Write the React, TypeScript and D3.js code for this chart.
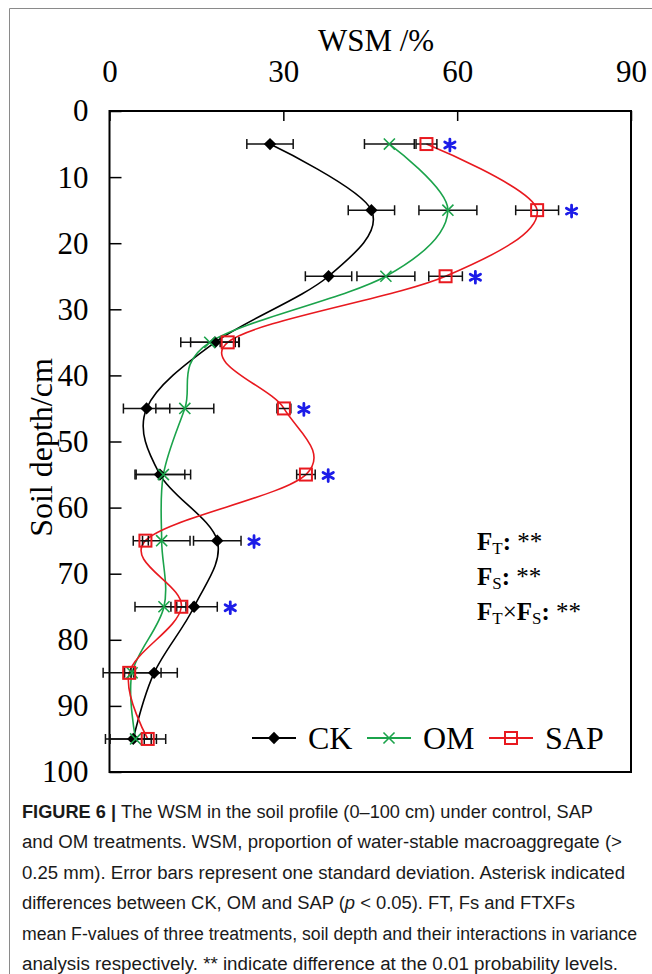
import React, { useEffect, useRef } from "react";
import * as d3 from "d3";

// depth (cm) and WSM (%)
const depths = [5, 15, 25, 35, 45, 55, 65, 75, 85, 95];
const ckMean = [27.7, 45.2, 37.8, 18.2, 6.4, 8.7, 18.6, 14.6, 7.7, 4.1];
const ckSd = [4.0, 4.0, 4.0, 4.2, 4.0, 4.3, 4.1, 4.0, 4.0, 4.0];
const omMean = [48.3, 58.4, 47.7, 17.3, 13.0, 9.3, 9.0, 9.4, 3.9, 4.5];
const omSd = [4.3, 5.0, 5.0, 5.0, 5.0, 4.7, 4.9, 5.0, 5.0, 5.2];
const sapMean = [54.7, 73.8, 58.0, 20.4, 30.1, 33.9, 6.2, 12.4, 3.4, 6.6];
const sapSd = [1.8, 3.7, 2.9, 1.3, 1.2, 1.6, 0.5, 0.8, 0.8, 0.6];
const sigDepths = [5, 15, 25, 45, 55, 65, 75];

const xTicks = [0, 30, 60, 90];
const yTicks = [0, 10, 20, 30, 40, 50, 60, 70, 80, 90, 100];

const SERIF = "'Liberation Serif', 'Times New Roman', serif";
const SANS = "'Liberation Sans', Arial, sans-serif";

const series = [
  { name: "CK", mean: ckMean, sd: ckSd, color: "#000000", marker: "diamond" },
  { name: "OM", mean: omMean, sd: omSd, color: "#1ba34b", marker: "x" },
  { name: "SAP", mean: sapMean, sd: sapSd, color: "#e8191f", marker: "square" },
];

const captionLines = [
  { w: 571, parts: [{ t: "FIGURE 6 | ", b: true }, { t: "The WSM in the soil profile (0–100 cm) under control, SAP" }] },
  { w: 600, parts: [{ t: "and OM treatments. WSM, proportion of water-stable macroaggregate (>" }] },
  { w: 603, parts: [{ t: "0.25 mm). Error bars represent one standard deviation. Asterisk indicated" }] },
  {
    w: 553,
    parts: [
      { t: "differences between CK, OM and SAP (" },
      { t: "p", i: true },
      { t: " < 0.05). FT, Fs and FTXFs" },
    ],
  },
  { w: 615, parts: [{ t: "mean F-values of three treatments, soil depth and their interactions in variance" }] },
  { w: 596, parts: [{ t: "analysis respectively. ** indicate difference at the 0.01 probability levels." }] },
];

function drawMarker(g, type, cx, cy, color) {
  if (type === "diamond") {
    g.append("path")
      .attr("d", d3.symbol(d3.symbolSquare, 76)())
      .attr("transform", `translate(${cx},${cy}) rotate(45)`)
      .attr("fill", color);
  } else if (type === "x") {
    g.append("path")
      .attr("d", d3.symbol(d3.symbolX, 82)())
      .attr("transform", `translate(${cx},${cy})`)
      .attr("fill", "none")
      .attr("stroke", color)
      .attr("stroke-width", 1.6);
  } else {
    g.append("rect")
      .attr("x", cx - 6)
      .attr("y", cy - 6)
      .attr("width", 12)
      .attr("height", 12)
      .attr("fill", "none")
      .attr("stroke", color)
      .attr("stroke-width", 2);
  }
}

export default function App() {
  const ref = useRef<SVGSVGElement>(null);

  useEffect(() => {
    const svg = d3.select(ref.current);
    svg.selectAll("*").remove();

    const x = d3.scaleLinear().domain([0, 90]).range([109.5, 631]);
    const y = d3.scaleLinear().domain([0, 100]).range([111, 772]);

    // outer frame (left + top only)
    svg.append("path")
      .attr("d", "M9.5,974 V8.5 H652")
      .attr("fill", "none")
      .attr("stroke", "#8a8a8a")
      .attr("stroke-width", 1);

    // top axis
    const gx = svg.append("g")
      .attr("transform", `translate(0,${y(0)})`)
      .call(d3.axisTop(x).tickValues(xTicks).tickSize(-10).tickPadding(29));
    gx.select(".domain").remove();
    gx.attr("font-family", SERIF).attr("font-size", 31);
    gx.selectAll("line").attr("stroke", "#000").attr("stroke-width", 1.5);
    gx.selectAll("text").attr("fill", "#000");

    // left axis
    const gy = svg.append("g")
      .attr("transform", `translate(${x(0)},0)`)
      .call(d3.axisLeft(y).tickValues(yTicks).tickSize(-12).tickPadding(21));
    gy.select(".domain").remove();
    gy.attr("font-family", SERIF).attr("font-size", 31);
    gy.selectAll("line").attr("stroke", "#000").attr("stroke-width", 1.5);
    gy.selectAll("text").attr("fill", "#000");

    svg.append("rect")
      .attr("x", x(0))
      .attr("y", y(0))
      .attr("width", x(90) - x(0))
      .attr("height", y(100) - y(0))
      .attr("fill", "none")
      .attr("stroke", "#000")
      .attr("stroke-width", 2);

    svg.append("text")
      .attr("x", 376)
      .attr("y", 51)
      .attr("text-anchor", "middle")
      .attr("font-family", SERIF)
      .attr("font-size", 31)
      .text("WSM /%");

    svg.append("text")
      .attr("transform", `translate(52,${(y(0) + y(100)) / 2 + 6}) rotate(-90)`)
      .attr("text-anchor", "middle")
      .attr("font-family", SERIF)
      .attr("font-size", 32)
      .text("Soil depth/cm");

    const line = d3.line()
      .x((d) => x(d[0]))
      .y((d) => y(d[1]))
      .curve(d3.curveCardinal.tension(0));

    const plot = svg.append("g");

    // smoothed lines
    series.forEach((s) => {
      plot.append("path")
        .attr("d", line(s.mean.map((v, i) => [v, depths[i]])))
        .attr("fill", "none")
        .attr("stroke", s.color)
        .attr("stroke-width", 1.6);
    });

    // error bars
    series.forEach((s) => {
      s.mean.forEach((v, i) => {
        const cy = y(depths[i]);
        const x0 = x(v - s.sd[i]);
        const x1 = x(v + s.sd[i]);
        plot.append("path")
          .attr("d", `M${x0},${cy}H${x1}M${x0},${cy - 5}V${cy + 5}M${x1},${cy - 5}V${cy + 5}`)
          .attr("fill", "none")
          .attr("stroke", "#111")
          .attr("stroke-width", 1.5);
      });
    });

    // markers
    series.forEach((s) => {
      s.mean.forEach((v, i) => drawMarker(plot, s.marker, x(v), y(depths[i]), s.color));
    });

    // significance asterisks
    sigDepths.forEach((dep) => {
      const i = depths.indexOf(dep);
      const right = d3.max(series, (s) => s.mean[i] + s.sd[i]);
      plot.append("path")
        .attr("d", d3.symbol(d3.symbolAsterisk, 100)())
        .attr("transform", `translate(${x(right) + 13},${y(dep) + 1})`)
        .attr("fill", "none")
        .attr("stroke", "#1c1ce8")
        .attr("stroke-width", 2.8)
        .attr("stroke-linecap", "round");
    });

    // F annotations
    const fx = 477;
    const fRows = [
      [{ t: "F", b: 1 }, { t: "T", sub: 1 }, { t: ":", b: 1 }, { t: " **" }],
      [{ t: "F", b: 1 }, { t: "S", sub: 1 }, { t: ":", b: 1 }, { t: " **" }],
      [{ t: "F", b: 1 }, { t: "T", sub: 1 }, { t: "×" }, { t: "F", b: 1 }, { t: "S", sub: 1 }, { t: ":", b: 1 }, { t: " **" }],
    ];
    fRows.forEach((row, r) => {
      const t = svg.append("text")
        .attr("x", fx)
        .attr("y", 550 + r * 35)
        .attr("font-family", SERIF)
        .attr("font-size", 25);
      let sub = false;
      row.forEach((p) => {
        const ts = t.append("tspan").text(p.t);
        if (p.b) ts.attr("font-weight", "bold");
        if (p.sub) {
          ts.attr("font-size", 17).attr("dy", 4);
          sub = true;
        } else if (sub) {
          ts.attr("dy", -4);
          sub = false;
        }
      });
    });

    // legend
    const legY = 738;
    const legStart = [252, 367, 489];
    series.forEach((s, k) => {
      const lx = legStart[k];
      svg.append("line")
        .attr("x1", lx)
        .attr("x2", lx + 44)
        .attr("y1", legY)
        .attr("y2", legY)
        .attr("stroke", s.color)
        .attr("stroke-width", 2);
      drawMarker(svg, s.marker, lx + 22, legY, s.color);
      svg.append("text")
        .attr("x", lx + 56)
        .attr("y", legY + 11)
        .attr("font-family", SERIF)
        .attr("font-size", 32)
        .text(s.name);
    });

    // caption
    captionLines.forEach((ln, k) => {
      const t = svg.append("text")
        .attr("x", 22)
        .attr("y", 818 + k * 30.4)
        .attr("font-family", SANS)
        .attr("font-size", 18)
        .attr("fill", "#1a1a1a")
        .attr("textLength", ln.w)
        .attr("lengthAdjust", "spacingAndGlyphs");
      ln.parts.forEach((p) => {
        const ts = t.append("tspan").text(p.t);
        if (p.b) ts.attr("font-weight", "bold");
        if (p.i) ts.attr("font-style", "italic");
      });
    });
  }, []);

  return (
    <div style={{ position: "absolute", left: 0, top: 0 }}>
      <svg ref={ref} width={652} height={974} style={{ display: "block", background: "#fff" }} />
    </div>
  );
}
